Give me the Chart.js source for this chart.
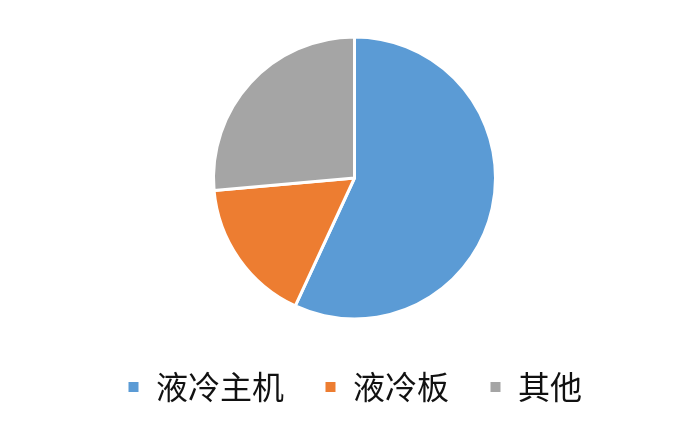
<!DOCTYPE html>
<html>
<head>
<meta charset="utf-8">
<script src="https://cdn.jsdelivr.net/npm/chart.js@4/dist/chart.umd.min.js"></script>
<style>
  body { margin: 0; background: #fff; }
</style>
</head>
<body>
<canvas id="myChart" width="700" height="429"></canvas>
<script>
const labels = ["液冷主机", "液冷板", "其他"];
const shares = [56.9, 16.7, 26.4];
const colors = ["#5B9BD5", "#ED7D31", "#A5A5A5"];

const ctx = document.getElementById("myChart");

new Chart(ctx, {
  type: "pie",
  data: {
    labels: labels,
    datasets: [
      {
        data: shares,
        backgroundColor: colors,
        borderColor: "#ffffff",
        borderWidth: 3,
        radius: 141,
      },
    ],
  },
  options: {
    responsive: false,
    animation: false,
    layout: {
      padding: { top: 25, bottom: 16, left: 9 },
    },
    plugins: {
      tooltip: { enabled: false },
      legend: {
        position: "bottom",
        labels: {
          boxWidth: 13,
          boxHeight: 13,
          padding: 40,
          color: "#111",
          font: { family: "'Noto Sans CJK SC'", size: 32 },
        },
      },
    },
  },
});
</script>
</body>
</html>
